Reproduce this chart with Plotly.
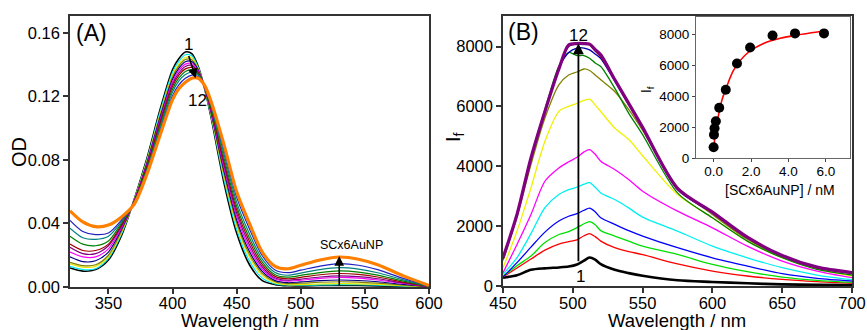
import plotly.graph_objects as go

# ---------------- Panel A : absorbance ----------------
a_wl = [320, 330, 340, 350, 360, 370, 380, 390, 400, 405, 410, 415, 420, 425, 430,
        440, 450, 460, 470, 480, 490, 500, 515, 530, 545, 560, 580, 600]
a_od_01 = [.012, .010, .011, .017, .032, .055, .081, .111, .137, .144, .148, .147, .139, .125, .107, .066, .034, .014, .004, .0015, .0008, .0007, .0009, .001, .0009, .0007, .0004, 0]
a_od_02 = [.013, .011, .0115, .018, .033, .0547, .0801, .1096, .1353, .1423, .1463, .1456, .1383, .1252, .1079, .0682, .0363, .0163, .0056, .002, .0012, .0011, .0013, .0015, .0014, .0011, .0006, .0001]
a_od_03 = [.0146, .0125, .013, .019, .034, .0545, .0792, .1081, .1336, .1406, .1446, .1442, .1377, .1254, .1088, .0703, .0387, .0187, .0072, .0025, .0014, .0015, .0019, .0021, .002, .0016, .0008, .0001]
a_od_04 = [.0156, .0135, .014, .020, .035, .0543, .0785, .107, .1323, .1393, .1433, .1431, .1371, .1255, .1095, .072, .0405, .0205, .0085, .0033, .0021, .0024, .003, .0033, .0031, .0024, .0012, .0002]
a_od_05 = [.019, .016, .0165, .022, .036, .054, .0778, .1059, .1309, .1379, .1419, .142, .1366, .1256, .1102, .0737, .0423, .0223, .0098, .004, .0027, .0032, .004, .0044, .0041, .0033, .0016, .0002]
a_od_06 = [.022, .019, .019, .024, .037, .0538, .077, .1046, .1294, .1364, .1404, .1408, .136, .1258, .111, .0756, .0444, .0244, .0112, .005, .0037, .0043, .0054, .006, .0056, .0044, .0022, .0003]
a_od_07 = [.025, .021, .021, .026, .038, .0536, .0762, .1033, .1279, .1349, .1389, .1396, .1354, .126, .1118, .0775, .0465, .0265, .0126, .0057, .0043, .005, .0063, .007, .0065, .0052, .0026, .0004]
a_od_08 = [.027, .023, .023, .027, .039, .0533, .0754, .102, .1264, .1334, .1374, .1383, .1348, .1261, .1126, .0794, .0486, .0286, .0141, .0067, .0052, .0061, .0077, .0085, .0079, .0063, .0031, .0004]
a_od_09 = [.032, .027, .026, .029, .040, .053, .0745, .1006, .1247, .1317, .1357, .1369, .1341, .1263, .1135, .0816, .0509, .0309, .0157, .0077, .0062, .0073, .0091, .0101, .0094, .0075, .0037, .0005]
a_od_10 = [.037, .031, .030, .032, .041, .0528, .0735, .099, .1228, .1298, .1338, .1354, .1334, .1265, .1145, .084, .0535, .0335, .0175, .0091, .0074, .0088, .011, .0122, .0113, .009, .0045, .0006]
a_od_11 = [.042, .035, .033, .034, .042, .0524, .0723, .0971, .1205, .1275, .1315, .1335, .1325, .1267, .1157, .0869, .0566, .0366, .0197, .0107, .009, .0106, .0132, .0147, .0137, .0109, .0054, .0007]
a_od_12 = [.048, .041, .038, .039, .044, .052, .071, .095, .118, .125, .129, .1315, .1315, .127, .117, .090, .060, .040, .022, .013, .0115, .0137, .017, .0189, .0175, .014, .007, .001]
a_colors = ["#000000", "#00E8F0", "#E8E800", "#808000", "#000080", "#FF00FF",
            "#800080", "#A00000", "#008000", "#008080", "#2020C0", "#FF8000"]
a_widths = [1.6, 1.2, 1.2, 1.2, 1.2, 1.2, 1.2, 1.2, 1.2, 1.2, 1.2, 3.2]

# ---------------- Panel B : fluorescence ----------------
b_wl = [450, 460, 470, 480, 490, 497, 503, 508, 512, 516, 520, 530, 540, 550, 575, 600, 625, 650, 675, 700]
b_if_01 = [278, 360, 540, 590, 620, 650, 720, 850, 950, 880, 730, 540, 430, 340, 190, 135, 90, 56, 42, 30]
b_if_02 = [300, 600, 900, 1200, 1400, 1480, 1540, 1680, 1750, 1650, 1500, 1280, 1150, 1050, 740, 500, 335, 222, 145, 90]
b_if_03 = [330, 680, 1000, 1450, 1720, 1820, 1950, 2080, 2150, 2050, 1850, 1670, 1500, 1330, 1056, 722, 478, 300, 189, 122]
b_if_04 = [300, 780, 1300, 1800, 2170, 2330, 2420, 2530, 2600, 2480, 2280, 2060, 1850, 1670, 1280, 944, 667, 411, 256, 167]
b_if_05 = [390, 950, 1750, 2620, 3060, 3220, 3300, 3400, 3450, 3300, 3110, 2890, 2610, 2300, 1833, 1333, 944, 611, 367, 211]
b_if_06 = [444, 1389, 2389, 3500, 3944, 4150, 4300, 4480, 4556, 4400, 4170, 3890, 3556, 3167, 2500, 1944, 1333, 833, 500, 278]
b_if_07 = [611, 1833, 3278, 4833, 5833, 6000, 6100, 6200, 6240, 6050, 5830, 5280, 4900, 4350, 3056, 2278, 1500, 944, 560, 333]
b_if_08 = [850, 2300, 4055, 5611, 6722, 7050, 7150, 7250, 7200, 7050, 6890, 6500, 5900, 5200, 3300, 2389, 1560, 980, 600, 420]
b_if_09 = [900, 2389, 4278, 5900, 7350, 7800, 7700, 7700, 7611, 7450, 7333, 6611, 5778, 5056, 3111, 2278, 1500, 944, 556, 367]
b_if_10 = [920, 2389, 4278, 5833, 7278, 7800, 7950, 7950, 7889, 7750, 7600, 6850, 6056, 5278, 3222, 2444, 1611, 1000, 611, 444]
b_if_11 = [940, 2389, 4278, 5833, 7278, 8000, 8100, 8100, 8056, 7850, 7650, 6900, 6100, 5300, 3250, 2460, 1620, 1010, 620, 450]
b_if_12 = [944, 2389, 4278, 5833, 7250, 8050, 8100, 8100, 8080, 7900, 7722, 6900, 6100, 5300, 3260, 2470, 1630, 1020, 630, 450]
b_colors = ["#000000", "#FF0000", "#00E000", "#0000FF", "#00F0F0", "#FF00FF",
            "#F0F000", "#808000", "#008000", "#0000B0", "#900000", "#800080"]
b_widths = [2.6, 1.3, 1.3, 1.3, 1.3, 1.3, 1.3, 1.3, 1.3, 1.3, 1.3, 3.2]

# ---------------- Inset : titration ----------------
ins_conc = [0, 0.02, 0.05, 0.12, 0.3, 0.65, 1.25, 1.95, 3.15, 4.35, 5.9]
ins_if = [700, 1500, 1930, 2380, 3250, 4420, 6110, 7150, 7930, 8060, 8060]
fit_conc = [0, 0.21, 0.44, 0.71, 1.07, 1.78, 2.67, 3.56, 4.44, 6.0]
fit_if = [700, 2430, 3730, 4650, 5680, 6760, 7410, 7740, 7950, 8230]

a_series = [a_od_01, a_od_02, a_od_03, a_od_04, a_od_05, a_od_06,
            a_od_07, a_od_08, a_od_09, a_od_10, a_od_11, a_od_12]
b_series = [b_if_01, b_if_02, b_if_03, b_if_04, b_if_05, b_if_06,
            b_if_07, b_if_08, b_if_09, b_if_10, b_if_11, b_if_12]

FONT = "Liberation Sans, Arial, sans-serif"
fig = go.Figure()

for ys, c, w in zip(a_series, a_colors, a_widths):
    fig.add_trace(go.Scatter(x=a_wl, y=ys, mode="lines", xaxis="x", yaxis="y",
                             line=dict(color=c, width=w, shape="spline", smoothing=0.8),
                             showlegend=False, hoverinfo="skip"))
for ys, c, w in zip(b_series, b_colors, b_widths):
    fig.add_trace(go.Scatter(x=b_wl, y=ys, mode="lines", xaxis="x2", yaxis="y2",
                             line=dict(color=c, width=w, shape="spline", smoothing=0.8),
                             showlegend=False, hoverinfo="skip"))
fig.add_trace(go.Scatter(x=fit_conc, y=fit_if, mode="lines", xaxis="x3", yaxis="y3",
                         line=dict(color="#FF0000", width=1.6, shape="spline", smoothing=0.8),
                         showlegend=False, hoverinfo="skip"))
fig.add_trace(go.Scatter(x=ins_conc, y=ins_if, mode="markers", xaxis="x3", yaxis="y3",
                         marker=dict(color="#000000", size=10),
                         showlegend=False, hoverinfo="skip"))

ax_common = dict(showline=True, mirror=True, linecolor="#333333", linewidth=1.5,
                 ticks="outside", ticklen=5, tickwidth=1.5, tickcolor="#333333",
                 showgrid=False, zeroline=False, automargin=False,
                 tickfont=dict(family=FONT, size=16.5, color="#000000"))
inset_common = dict(showline=True, mirror=True, linecolor="#666666", linewidth=1.2,
                    ticks="outside", ticklen=3, tickwidth=1, tickcolor="#444444",
                    showgrid=False, zeroline=False, automargin=False,
                    tickfont=dict(family=FONT, size=13.5, color="#000000"))

fig.update_layout(
    width=867, height=330,
    margin=dict(l=0, r=0, t=0, b=0, autoexpand=False),
    paper_bgcolor="white", plot_bgcolor="rgba(0,0,0,0)",
    xaxis=dict(domain=[0.0807, 0.4948], range=[320, 600], tickvals=[350, 400, 450, 500, 550, 600],
               anchor="y", ticklabelstandoff=-5, **ax_common),
    yaxis=dict(domain=[0.1303, 0.9515], range=[0, 0.1707], tickvals=[0, 0.04, 0.08, 0.12, 0.16],
               tickformat=".2f", anchor="x", **ax_common),
    xaxis2=dict(domain=[0.5802, 0.9827], range=[450, 700], tickvals=[450, 500, 550, 600, 650, 700],
                anchor="y2", ticklabelstandoff=-4, **ax_common),
    yaxis2=dict(domain=[0.1333, 0.9515], range=[0, 9020], tickvals=[0, 2000, 4000, 6000, 8000],
                anchor="x2", **ax_common),
    xaxis3=dict(domain=[0.8028, 0.9804], range=[-0.94, 7.29], tickvals=[0, 2, 4, 6],
                ticktext=["0.0", "2.0", "4.0", "6.0"], anchor="y3", ticklabelstandoff=-2,
                **inset_common),
    yaxis3=dict(domain=[0.5212, 0.9475], range=[0, 9100], tickvals=[0, 2000, 4000, 6000, 8000],
                anchor="x3", **inset_common),
)

def txt(x, y, s, size, xref="paper", yref="paper", angle=0, xanchor="center"):
    fig.add_annotation(x=x, y=y, xref=xref, yref=yref, text=s, showarrow=False,
                       textangle=angle, xanchor=xanchor, yanchor="middle",
                       font=dict(family=FONT, size=size, color="#000000"))

# axis titles
txt(0.2884, 0.0290, "Wavelength / nm", 18.5)
txt(0.7809, 0.0300, "Wavelength / nm", 18.5)
txt(0.0219, 0.5394, "OD", 20, angle=-90)
txt(0.5236, 0.5848, "I<sub>f</sub>", 20, angle=-90)
txt(0.7463, 0.7273, "I<sub>f</sub>", 14, angle=-90)
txt(0.8997, 0.4240, "[SCx6AuNP] / nM", 14)
# panel letters
txt(0.1061, 0.900, "(A)", 23)
txt(0.6036, 0.904, "(B)", 23)
# panel A labels
txt(412.7, 0.1525, "1", 17, xref="x", yref="y")
txt(419.3, 0.1174, "12", 17, xref="x", yref="y")
txt(539.6, 0.0262, "SCx6AuNP", 12.5, xref="x", yref="y")
# panel B labels
txt(504.3, 8380, "12", 17, xref="x2", yref="y2")
txt(505.5, 333, "1", 17, xref="x2", yref="y2")

def arrow(x, y, ax, ay, xr, yr, width=1.6):
    fig.add_annotation(x=x, y=y, ax=ax, ay=ay, xref=xr, yref=yr, axref=xr, ayref=yr,
                       text="", showarrow=True, arrowhead=2, arrowsize=1.2,
                       arrowwidth=width, arrowcolor="#000000", standoff=0, startstandoff=0)

arrow(418.0, 0.1315, 412.3, 0.1464, "x", "y")
arrow(530.0, 0.0195, 530.0, 0.0, "x", "y")
arrow(504.0, 8100, 504.0, 780, "x2", "y2", width=1.8)

fig.write_html("out.html", config={"displayModeBar": False},
               post_script="document.body.style.margin='0';document.body.style.overflow='hidden';")
